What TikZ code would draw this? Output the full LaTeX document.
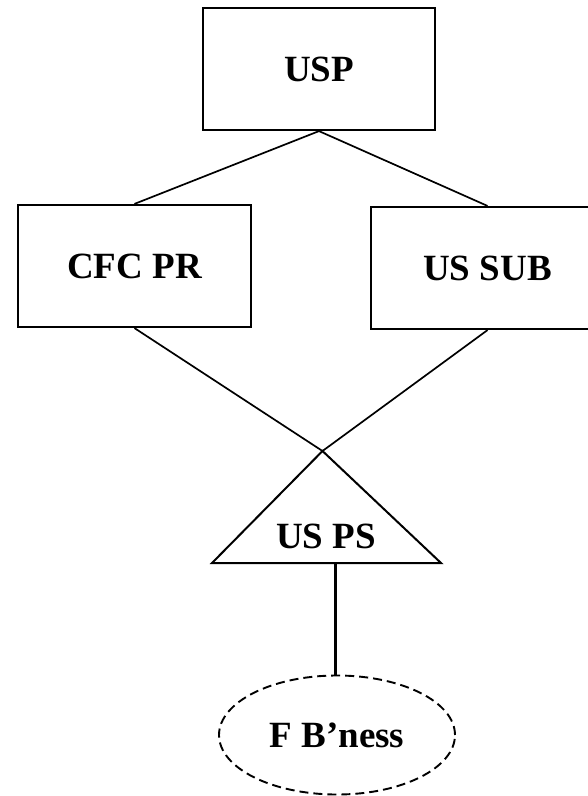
\documentclass[tikz,border=0pt]{standalone}
\usepackage{fontspec}
\setmainfont{Liberation Serif}
\usetikzlibrary{shapes.geometric}
\begin{document}
\begin{tikzpicture}[x=1pt,y=-1pt,
  lbl/.style={font=\fontsize{37}{40}\selectfont\bfseries},
  box/.style={draw, line width=2.2pt, inner sep=0pt, minimum height=122pt, lbl},
  conn/.style={line width=1.7pt},
  tri/.style={line width=2pt, line join=miter},
  stem/.style={line width=3pt},
  cloud/.style={draw, ellipse, dashed, dash pattern=on 9pt off 5pt, line width=1.9pt, inner sep=0pt, minimum width=236pt, minimum height=119pt, lbl}]
\useasboundingbox (0,0) rectangle (588,796);
\node[box, minimum width=232pt] (usp) at (319,69) {USP};
\node[box, minimum width=233pt] (cfc) at (134.5,266) {CFC PR};
\node[box, minimum width=233pt] (ussub) at (487.5,268) {US SUB};
\coordinate (apex) at (322.5,451);
\coordinate (tl) at (212,563);
\coordinate (tr) at (441,563);
\coordinate (tb) at (335,563);
\node[lbl] (usps) at (326,536) {US PS};
\node[cloud] (fb) at (337,735) {\raisebox{-3pt}{F B’ness}};
\draw[conn] (usp.south) -- (cfc.north);
\draw[conn] (usp.south) -- (ussub.north);
\draw[conn] (cfc.south) -- (apex);
\draw[conn] (ussub.south) -- (apex);
\draw[tri] (apex) -- (tr) -- (tl) -- cycle;
\draw[stem] (tb) -- (tb |- fb.north);
\end{tikzpicture}
\end{document}
